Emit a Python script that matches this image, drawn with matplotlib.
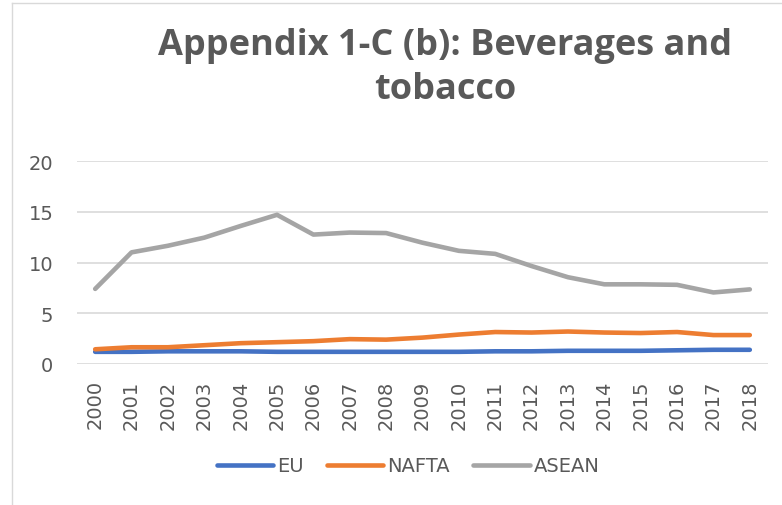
import matplotlib.pyplot as plt
from matplotlib.lines import Line2D

years = [str(y) for y in range(2000, 2019)]
eu = [1.2, 1.2, 1.25, 1.25, 1.25, 1.2, 1.2, 1.2, 1.2, 1.2,
      1.2, 1.25, 1.25, 1.3, 1.3, 1.3, 1.35, 1.4, 1.4]
nafta = [1.45, 1.65, 1.65, 1.85, 2.05, 2.15, 2.25, 2.45, 2.4, 2.6,
         2.9, 3.15, 3.1, 3.2, 3.1, 3.05, 3.15, 2.85, 2.85]
asean = [7.4, 11.0, 11.65, 12.45, 13.6, 14.7, 12.75, 12.95, 12.9, 11.95,
         11.15, 10.85, 9.65, 8.55, 7.85, 7.85, 7.8, 7.05, 7.35]

series = [("EU", eu, "#4472C4"), ("NAFTA", nafta, "#ED7D31"), ("ASEAN", asean, "#A5A5A5")]
txt = "#595959"
W, H = 782, 506

fig = plt.figure(figsize=(W / 100, H / 100), dpi=100)
ax = fig.add_axes([77 / W, 1 - 365 / H, (768 - 77) / W, (365 - 162) / H])

x = list(range(len(years)))
for name, vals, col in series:
    ax.plot(x, vals, color=col, lw=3.3, solid_capstyle="round", label=name, zorder=3)

ax.set_xlim(-0.5, len(years) - 0.5)
ax.set_ylim(0, 20)
ax.set_yticks([0, 5, 10, 15, 20])
ax.set_xticks(x)
ax.set_xticklabels(years, rotation=90)
ax.grid(axis="y", color="#d9d9d9", lw=1.2)
ax.set_axisbelow(True)
for s in ax.spines.values():
    s.set_visible(False)
ax.tick_params(length=0, labelsize=14, labelcolor=txt)
ax.tick_params(axis="y", pad=17)
ax.tick_params(axis="x", pad=11)

fig.text(445 / W, 1 - 68 / H, "Appendix 1-C (b): Beverages and\ntobacco", ha="center", va="center",
         fontsize=26, fontweight="bold", color=txt, linespacing=1.32, family="Open Sans")

ax.legend(loc="center", bbox_to_anchor=(408 / W, 1 - 467 / H), bbox_transform=fig.transFigure,
          ncol=3, frameon=False, fontsize=14, labelcolor=txt, handlelength=2.9,
          handletextpad=0.2, columnspacing=1.2)

# chart border
fig.add_artist(Line2D([12 / W, 12 / W], [0, 1 - 4 / H], color="#d9d9d9", lw=1, transform=fig.transFigure))
fig.add_artist(Line2D([12 / W, 1], [1 - 4 / H, 1 - 4 / H], color="#d9d9d9", lw=1, transform=fig.transFigure))

fig.savefig("out.png", dpi=100)
